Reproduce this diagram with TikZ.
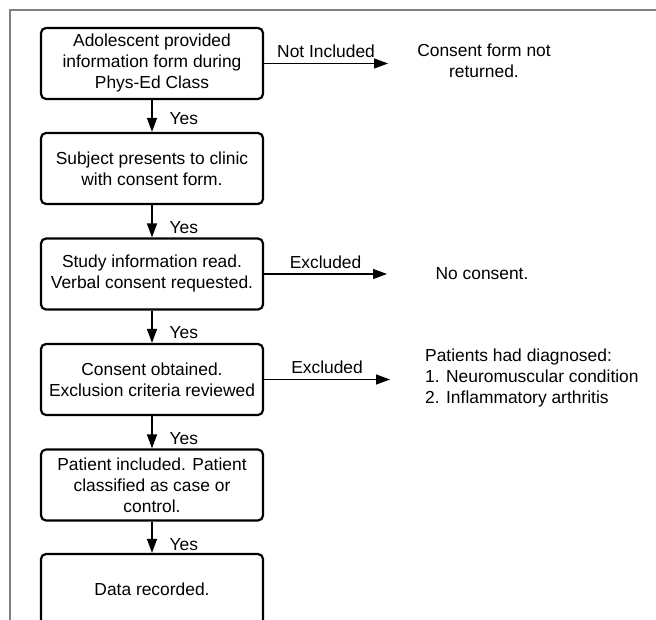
\documentclass[tikz,border=0pt]{standalone}
\usepackage{fontspec}
\setmainfont{Liberation Sans}
\usetikzlibrary{arrows.meta}
\begin{document}
\begin{tikzpicture}[x=1pt,y=-1pt,
  box/.style={draw, line width=2.2pt, rounded corners=5pt, minimum width=222pt, minimum height=71pt, align=center, inner sep=2pt},
  arr/.style={line width=1.4pt, -{Triangle[length=14pt,width=10pt]}},
  lbl/.style={inner sep=1pt},
  yes/.style={lbl, anchor=west, xshift=16pt, yshift=-6pt},
  txt/.style={align=center, inner sep=0pt},
  every node/.append style={font=\fontsize{17.4}{21}\selectfont}]
\useasboundingbox (0,0) rectangle (656,620);
\begin{scope}
\clip (0,0) rectangle (656,620);
\draw[line width=1.3pt, color=black!50] (656,10) -- (10,10) -- (10,630);

\node[box] (b1) at (152,63.5) {Adolescent provided\\information form during\\Phys-Ed Class};
\node[box] (b2) at (152,168.5) {Subject presents to clinic\\with consent form.};
\node[box] (b3) at (152,274) {Study information read.\\Verbal consent requested.};
\node[box] (b4) at (152,379.5) {Consent obtained.\\Exclusion criteria reviewed};
\node[box] (b5) at (152,485) {Patient included. Patient\\classified as case or\\control.};
\node[box] (b6) at (152,589.5) {Data recorded.};

\draw[arr] (b1) -- node[yes, yshift=3pt] {Yes} (b2);
\draw[arr] (b2) -- node[yes] {Yes} (b3);
\draw[arr] (b3) -- node[yes] {Yes} (b4);
\draw[arr] (b4) -- node[yes] {Yes} (b5);
\draw[arr] (b5) -- node[yes, yshift=-1pt] {Yes} (b6);

\node[txt] (t1) at (484,61) {Consent form not\\returned.};
\node[txt] (t3) at (482,274) {No consent.};
\node[txt, align=left, anchor=west] (t4) at (425,378) {Patients had diagnosed:\\1. Neuromuscular condition\\2. Inflammatory arthritis};

\coordinate (e1) at (388,63.5);
\coordinate (e3) at (387,274);
\coordinate (e4) at (390,379.5);
\draw[arr] (b1.east) -- node[lbl, above, yshift=4pt] {Not Included} (e1);
\draw[arr] (b3.east) -- node[lbl, above, yshift=4pt] {Excluded} (e3);
\draw[arr] (b4.east) -- node[lbl, above, yshift=4pt] {Excluded} (e4);
\end{scope}
\end{tikzpicture}
\end{document}
